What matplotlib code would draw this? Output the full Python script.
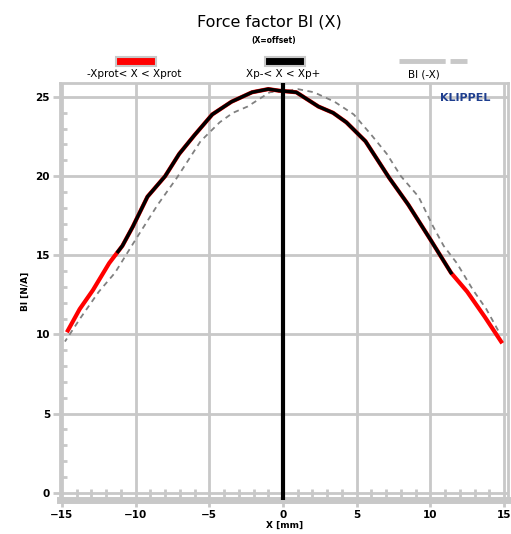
import numpy as np
import matplotlib
matplotlib.use("Agg")
import matplotlib.pyplot as plt
from matplotlib.patches import Rectangle
from matplotlib.lines import Line2D

# displacement [mm] and force factor Bl [N/A]
x_mm = [-14.6, -13.8, -12.9, -11.8, -10.9, -10.2, -9.2, -8.0, -7.05, -6.0, -4.8,
        -3.5, -2.1, -1.0, -0.27, 0.9, 2.4, 3.4, 4.3, 5.6, 7.2, 8.5, 10.0, 11.4,
        12.5, 13.7, 14.8]
bl = [10.25, 11.6, 12.8, 14.5, 15.6, 16.8, 18.7, 20.0, 21.4, 22.6, 23.9,
      24.7, 25.3, 25.5, 25.4, 25.3, 24.4, 24.0, 23.4, 22.2, 19.9, 18.2, 16.0, 13.9,
      12.7, 11.1, 9.55]
xp_minus = -11.2
xp_plus = 11.4
labels = ["-Xprot< X < Xprot", "Xp-< X < Xp+", "Bl (-X)"]
title = "Force factor Bl (X)"
subtitle = "(X=offset)"

x_mm = np.array(x_mm)
bl = np.array(bl)
grey = "#c8c8c8"

fig = plt.figure(figsize=(5.11, 5.34), dpi=100)
ax = fig.add_axes([0.117, 0.064, 0.878, 0.781])

# Bl(-X): the same curve mirrored
ax.plot(-x_mm, bl, color="#808080", lw=1.3, ls=(0, (3, 2.5)), zorder=3)
ax.plot(x_mm, bl, color="red", lw=3.0, zorder=4)
inner = (x_mm >= xp_minus) & (x_mm <= xp_plus)
xi = np.concatenate([[xp_minus], x_mm[inner], [xp_plus]])
bi = np.interp(xi, x_mm, bl)
ax.plot(xi, bi, color="black", lw=2.5, zorder=5)
ax.axvline(0, color="black", lw=3.0, zorder=6)

ax.set_xlim(-15.15, 15.3)
ax.set_ylim(-0.45, 25.9)
ax.set_xticks(range(-15, 16, 5))
ax.set_yticks(range(0, 26, 5))
ax.set_xticks(range(-15, 16), minor=True)
ax.set_yticks(range(0, 26), minor=True)
ax.grid(True, which="major", color=grey, lw=2, zorder=1)
ax.tick_params(which="major", length=5, width=2, color=grey,
               labelsize=7.5, pad=2)
ax.tick_params(which="minor", direction="in", length=5, width=2, color=grey)
ax.tick_params(axis="x", which="minor", length=8)
for lab in ax.get_xticklabels() + ax.get_yticklabels():
    lab.set_fontweight("bold")
for s in ax.spines.values():
    s.set_color(grey)
    s.set_linewidth(2)
ax.spines["bottom"].set_linewidth(5)

ax.set_xlabel("X [mm]", fontsize=6.5, fontweight="bold", labelpad=1)
ax.set_ylabel("Bl [N/A]", fontsize=6.5, fontweight="bold", labelpad=4)
ax.text(0.96, 0.975, "KLIPPEL", transform=ax.transAxes, ha="right", va="top",
        color="#1f3f8f", fontsize=8, fontweight="bold")

fig.text(0.528, 0.958, title, ha="center", va="center", fontsize=11.5)
fig.text(0.535, 0.925, subtitle, ha="center", va="center", fontsize=5.5,
         fontweight="bold")

# legend above the plot
fig.add_artist(Rectangle((0.227, 0.877), 0.078, 0.017, transform=fig.transFigure,
                         facecolor="red", edgecolor=grey, lw=1.5))
fig.add_artist(Rectangle((0.519, 0.877), 0.078, 0.017, transform=fig.transFigure,
                         facecolor="black", edgecolor=grey, lw=1.5))
fig.add_artist(Line2D([0.781, 0.914], [0.886, 0.886], transform=fig.transFigure,
                      color=grey, lw=3.5, ls=(0, (9.5, 1))))
for xc, txt in zip([0.262, 0.555, 0.83], labels):
    fig.text(xc, 0.861, txt, ha="center", va="center", fontsize=7.5)

fig.savefig("out.png", dpi=100)
